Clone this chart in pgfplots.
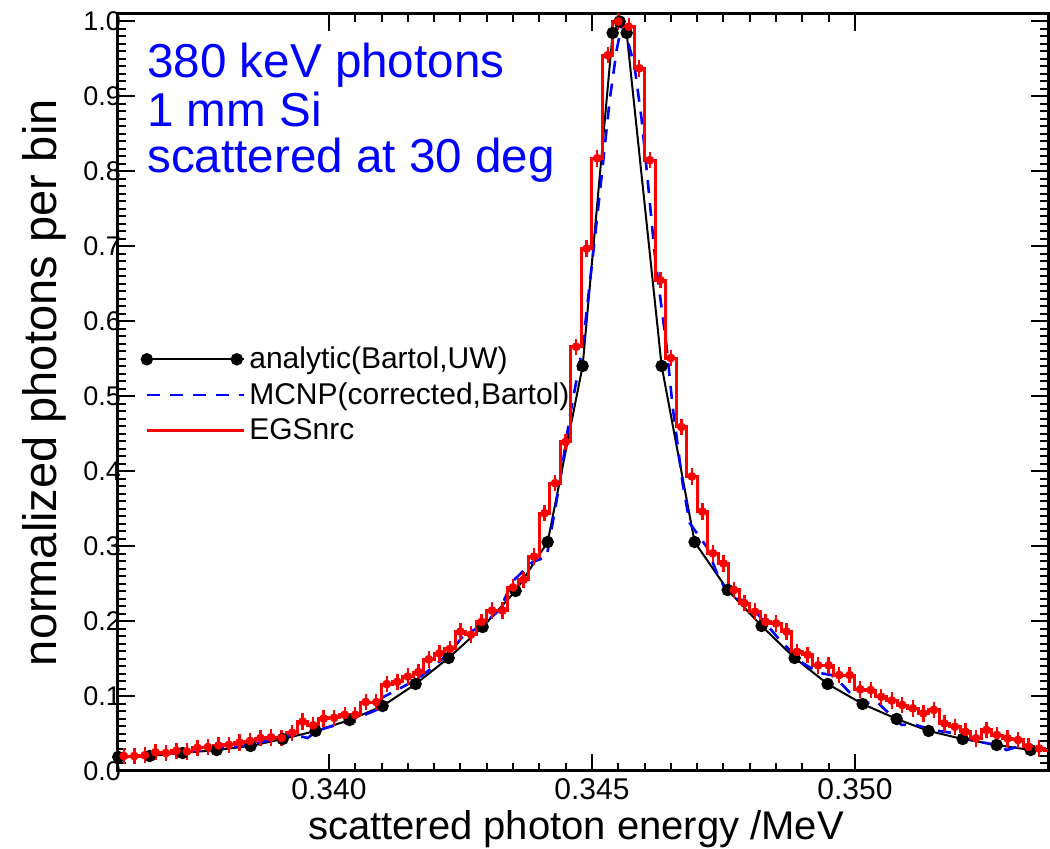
\documentclass[border=0pt]{standalone}
\usepackage{fontspec}
\setmainfont{Liberation Sans}
\usepackage{pgfplots}
\pgfplotsset{compat=1.18}
\usepackage{pgfplotstable}

\pgfplotstableread{
x y
0.335995 0.0187
0.336591 0.0200
0.337219 0.0240
0.337865 0.0280
0.338511 0.0334
0.339120 0.0427
0.339747 0.0534
0.340393 0.0680
0.341020 0.0867
0.341648 0.1161
0.342275 0.1508
0.342922 0.1921
0.343549 0.2402
0.344158 0.3055
0.344823 0.5404
0.345394 0.9847
0.345527 1.0000
0.345660 0.9847
0.346325 0.5404
0.346952 0.3055
0.347580 0.2415
0.348226 0.1935
0.348853 0.1508
0.349481 0.1161
0.350146 0.0894
0.350793 0.0694
0.351401 0.0534
0.352048 0.0427
0.352694 0.0347
0.353340 0.0280
}\analytic

\pgfplotstableread{
x y
0.336021 0.0173
0.336458 0.0213
0.337105 0.0240
0.337732 0.0290
0.338359 0.0334
0.339006 0.0427
0.339310 0.0490
0.339595 0.0440
0.339785 0.0540
0.340070 0.0600
0.340445 0.0680
0.340901 0.0814
0.341016 0.0980
0.341344 0.1100
0.341667 0.1220
0.341971 0.1380
0.342294 0.1580
0.342541 0.1790
0.342922 0.1950
0.343245 0.2150
0.343492 0.2530
0.343872 0.2790
0.344139 0.2855
0.344386 0.3840
0.344576 0.4720
0.344823 0.5660
0.345051 0.7080
0.345203 0.8060
0.345337 0.8950
0.345470 0.9620
0.345565 0.9950
0.345679 0.9750
0.345812 0.9390
0.345945 0.8690
0.346059 0.7890
0.346192 0.6910
0.346287 0.6380
0.346420 0.5660
0.346534 0.4860
0.346724 0.3840
0.346857 0.3310
0.346952 0.3215
0.347181 0.2990
0.347371 0.2650
0.347618 0.2320
0.347865 0.2280
0.348131 0.2110
0.348568 0.1750
0.349005 0.1440
0.349329 0.1307
0.349557 0.1280
0.349766 0.1147
0.350032 0.0947
0.350222 0.0907
0.350412 0.0927
0.350717 0.0720
0.350888 0.0614
0.351097 0.0627
0.351477 0.0547
0.351857 0.0507
0.352085 0.0440
0.352371 0.0387
0.352694 0.0347
0.352884 0.0280
0.353074 0.0320
0.353378 0.0310
0.353702 0.0240
}\mcnp

\pgfplotstableread{
x y
0.3359 0.020
0.3361 0.020
0.3363 0.020
0.3365 0.021
0.3367 0.025
0.3369 0.024
0.3371 0.027
0.3373 0.026
0.3375 0.031
0.3377 0.032
0.3379 0.034
0.3381 0.035
0.3383 0.038
0.3385 0.040
0.3387 0.044
0.3389 0.045
0.3391 0.044
0.3393 0.051
0.3395 0.066
0.3397 0.061
0.3399 0.070
0.3401 0.071
0.3403 0.075
0.3405 0.075
0.3407 0.092
0.3409 0.092
0.3411 0.116
0.3413 0.119
0.3415 0.126
0.3417 0.132
0.3419 0.149
0.3421 0.157
0.3423 0.163
0.3425 0.186
0.3427 0.182
0.3429 0.199
0.3431 0.214
0.3433 0.214
0.3435 0.245
0.3437 0.255
0.3439 0.286
0.3441 0.344
0.3443 0.384
0.3445 0.439
0.3447 0.566
0.3449 0.697
0.3451 0.8175
0.3453 0.955
0.3455 1.000
0.3457 0.993
0.3459 0.9375
0.3461 0.815
0.3463 0.655
0.3465 0.551
0.3467 0.459
0.3469 0.393
0.3471 0.346
0.3473 0.2905
0.3475 0.277
0.3477 0.2415
0.3479 0.224
0.3481 0.2125
0.3483 0.199
0.3485 0.197
0.3487 0.186
0.3489 0.159
0.3491 0.155
0.3493 0.141
0.3495 0.141
0.3497 0.128
0.3499 0.128
0.3501 0.109
0.3503 0.108
0.3505 0.099
0.3507 0.094
0.3509 0.088
0.3511 0.0836
0.3513 0.077
0.3515 0.0814
0.3517 0.0636
0.3519 0.059
0.3521 0.0524
0.3523 0.0436
0.3525 0.0547
0.3527 0.048
0.3529 0.0436
0.3531 0.0414
0.3533 0.0324
0.3535 0.030
0.3537 0.028
0.3539 0.028
}\egs

\begin{document}
\begin{tikzpicture}
\begin{axis}[
  at={(0,0)}, anchor=south west,
  scale only axis, width=465pt, height=378.5pt,
  xmin=0.33599, xmax=0.35367, ymin=0, ymax=1.01,
  axis line style={line width=1.5pt},
  tick style={line width=1pt, black},
  major tick length=8.5pt, minor tick length=4pt,
  tick align=inside, tick pos=both,
  xtick={0.340,0.345,0.350}, minor x tick num=9,
  ytick={0,0.1,0.2,0.3,0.4,0.5,0.6,0.7,0.8,0.9,1.0}, minor y tick num=9,
  scaled ticks=false,
  xticklabel style={font=\fontsize{15}{18}\selectfont, /pgf/number format/.cd, fixed, fixed zerofill, precision=3},
  yticklabel style={font=\fontsize{13.5}{16}\selectfont, xshift=5pt, /pgf/number format/.cd, fixed, fixed zerofill, precision=1},
  /pgf/number format/assume math mode=true,
  xlabel={scattered photon energy /MeV},
  ylabel={normalized photons per bin},
  xlabel style={font=\fontsize{20}{24}\selectfont, at={(axis description cs:0.5,0)}, anchor=base, xshift=-3.5pt, yshift=-34.5pt},
  ylabel style={font=\fontsize{23.5}{28}\selectfont, at={(axis description cs:-0.0656,0.513)}, anchor=base},
  legend style={at={(rel axis cs:0.025,0.566)}, anchor=north west, draw=none, fill=none,
    font=\fontsize{15}{18}\selectfont, row sep=1.5pt, inner sep=0pt},
  legend cell align=left,
  legend image code/.code={\draw[#1] plot coordinates {(0pt,0pt) (45pt,0pt)}; \path (0pt,0pt) -- (48.5pt,0pt);},
  clip=true,
]
\addplot[black, line width=1pt, mark=*, mark size=2.6pt] table {\analytic};
\addlegendentry{analytic(Bartol,UW)}
\addplot[blue, line width=1.3pt, dash pattern=on 6.5pt off 5pt] table {\mcnp};
\addlegendentry{MCNP(corrected,Bartol)}
\addplot[red, line width=1.5pt, const plot mark mid] table {\egs};
\addlegendentry{EGSnrc}
\addplot[red, only marks, mark=none, forget plot,
  error bars/.cd, y dir=both, y fixed=0.011, error mark=none,
  error bar style={red, line width=1.2pt}] table {\egs};

\node[anchor=base west, inner sep=0pt, text=blue, font=\fontsize{23.8}{26}\selectfont] at (rel axis cs:0.031,0.9155) {380 keV photons};
\node[anchor=base west, inner sep=0pt, text=blue, font=\fontsize{23.8}{26}\selectfont] at (rel axis cs:0.031,0.852) {1 mm Si};
\node[anchor=base west, inner sep=0pt, text=blue, font=\fontsize{23.8}{26}\selectfont] at (rel axis cs:0.031,0.790) {scattered at 30 deg};
\end{axis}
\pgfresetboundingbox
\path[use as bounding box] (-59pt,-39pt) rectangle (466pt,385.5pt);
\end{tikzpicture}
\end{document}
